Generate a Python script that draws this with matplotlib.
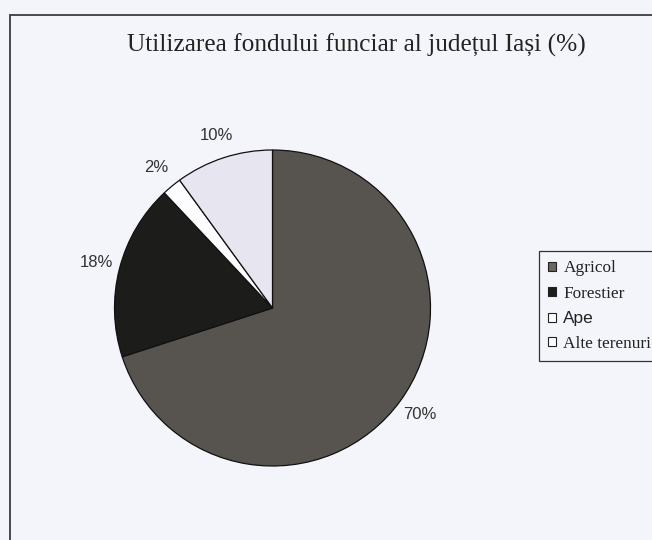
import matplotlib
matplotlib.use("Agg")
import matplotlib.pyplot as plt
from matplotlib.patches import Rectangle

categories = ["Agricol", "Forestier", "Ape", "Alte terenuri"]
values = [70, 18, 2, 10]
pct_labels = ["70%", "18%", "2%", "10%"]
colors = ["#57534f", "#1c1d1a", "#fdfdff", "#e7e5ef"]
legend_colors = ["#6a6663", "#1c1d1a", "#fdfdff", "#fdfdff"]
title = "Utilizarea fondului funciar al județul Iași (%)"

BG = "#f4f5fa"
W, H = 652, 540
fig = plt.figure(figsize=(W / 100, H / 100), dpi=100, facecolor=BG)

# outer frame
fig.add_artist(Rectangle((9.5 / W, -0.05), 1.2, 1 - 15 / H + 0.05,
                         transform=fig.transFigure, fill=False,
                         edgecolor="#3c3c3c", linewidth=1.3))

fig.text(356 / W, 1 - 45 / H, title, ha="center", va="center",
         family="Liberation Serif", fontsize=18.3, color="#222222")

ax = fig.add_axes([114.5 / W, 74 / H, 316 / W, 316 / H])
ax.set_facecolor(BG)
wedges, texts = ax.pie(values, labels=pct_labels, colors=colors,
                       startangle=90, counterclock=False,
                       labeldistance=1.15,
                       wedgeprops=dict(edgecolor="#111111", linewidth=0.9),
                       textprops=dict(family="Liberation Sans", fontsize=12,
                                      color="#333333"))
for t in texts:
    t.set_ha("center")
    t.set_va("center")
ax.set_xlim(-1, 1)
ax.set_ylim(-1, 1)
ax.set_aspect("equal")
ax.axis("off")

handles = [Rectangle((0, 0), 1, 1, facecolor=c, edgecolor="#222222", linewidth=0.8)
           for c in legend_colors]
leg = fig.legend(handles, categories, loc="upper left",
                 bbox_to_anchor=(539 / W, 1 - 251 / H),
                 prop=dict(family="Liberation Serif", size=12.4),
                 handlelength=0.42, handleheight=0.42, handletextpad=0.45,
                 borderpad=0.55, labelspacing=0.55, fancybox=False,
                 edgecolor="#333333", facecolor=BG, framealpha=1,
                 borderaxespad=0)
leg.get_frame().set_linewidth(0.9)
leg.get_texts()[2].set_family("Liberation Sans")
for t in leg.get_texts():
    t.set_color("#222222")

fig.savefig("out.png", dpi=100, facecolor=BG)
